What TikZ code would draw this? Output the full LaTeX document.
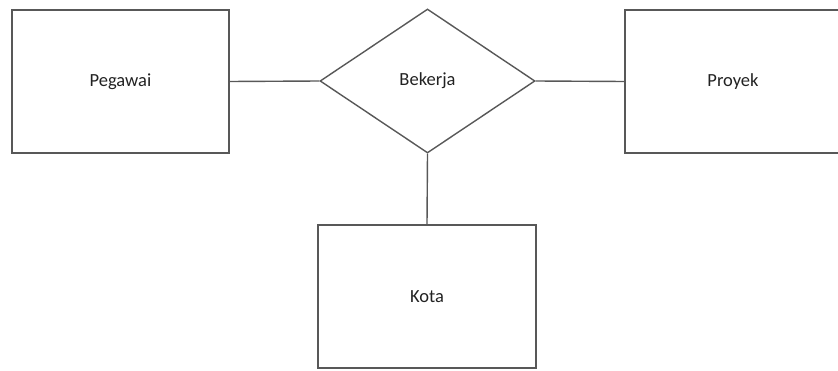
\documentclass[tikz,border=0pt]{standalone}
\usepackage{fontspec}
\setmainfont{Carlito}
\usetikzlibrary{shapes.geometric}
\definecolor{edgegray}{HTML}{585858}
\definecolor{textcol}{HTML}{222222}
\begin{document}
\begin{tikzpicture}[x=1pt,y=1pt,
  entity/.style={draw=edgegray,line width=1.4pt,rectangle,minimum width=217pt,minimum height=143pt,inner sep=0pt,font=\fontsize{18.5}{20}\selectfont,text=textcol},
  relation/.style={draw=edgegray,line width=1.4pt,diamond,aspect=1.49,minimum width=215pt,minimum height=144pt,inner sep=0pt,font=\fontsize{18.5}{20}\selectfont,text=textcol},
  link/.style={draw=edgegray,line width=1.4pt}]
\useasboundingbox (0,0) rectangle (838,370);
\node[entity] (peg) at (120.5,288.5) {Pegawai};
\node[relation] (bek) at (427.5,289) {Bekerja};
\node[entity,minimum width=216pt] (pro) at (733,288.5) {Proyek};
\node[entity,minimum width=218pt] (kota) at (427,73.5) {Kota};
\draw[link] (peg.east) -- (bek.west);
\draw[link] (bek.east) -- (pro.west);
\draw[link] (bek.south) -- (kota.north);
\end{tikzpicture}
\end{document}
